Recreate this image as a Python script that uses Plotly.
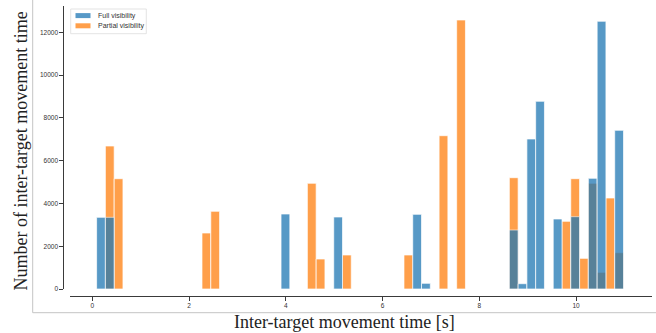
import plotly.graph_objects as go

# ---- data ----
bin_width = 0.1815  # common histogram bin width [s]

full_x = [0.181, 0.362, 3.993, 5.082, 6.715, 6.897, 8.712, 8.893, 9.075, 9.256,
          9.619, 9.982, 10.345, 10.527, 10.890]
full_counts = [3352, 3352, 3506, 3366, 3492, 266, 2758, 248, 7013, 8775,
               3273, 3381, 5175, 12515, 7419]

partial_x = [0.362, 0.544, 2.359, 2.541, 4.537, 4.719, 5.263, 6.534, 7.260, 7.623,
             8.712, 9.801, 9.982, 10.164, 10.345, 10.527, 10.708, 10.890]
partial_counts = [6685, 5157, 2618, 3633, 4942, 1402, 1590, 1590, 7167, 12576,
                  5203, 3165, 5157, 1434, 4942, 780, 4254, 1697]

series_names = ["Full visibility", "Partial visibility"]
x_ticks = [0, 2, 4, 6, 8, 10]
y_ticks = [0, 2000, 4000, 6000, 8000, 10000, 12000]
x_title = "Inter-target movement time [s]"
y_title = "Number of inter-target movement time"

BLUE = "#1f77b4"
ORANGE = "#ff7f0e"
AXIS = "#3a3a3a"
TICKFONT = dict(family="Liberation Sans, Arial, sans-serif", size=6.5, color="#333333")

fig = go.Figure()
# partial first so the full-visibility bars are layered on top
fig.add_trace(go.Bar(
    x=partial_x, y=partial_counts, width=bin_width, name=series_names[1],
    marker=dict(color=ORANGE, line=dict(color="white", width=0.7)),
    opacity=0.75, showlegend=False,
))
fig.add_trace(go.Bar(
    x=full_x, y=full_counts, width=bin_width, name=series_names[0],
    marker=dict(color=BLUE, line=dict(color="white", width=0.7)),
    opacity=0.75, showlegend=False,
))

W, H = 656, 333
L, R, T, B = 63, 4, 6, 37
pw, ph = W - L - R, H - T - B


def px(xp):
    return (xp - L) / pw


def py(yp):
    return (H - B - yp) / ph


fig.update_layout(
    width=W, height=H,
    margin=dict(l=L, r=R, t=T, b=B),
    barmode="overlay",
    plot_bgcolor="white", paper_bgcolor="white",
    xaxis=dict(
        domain=[px(70), 1], range=[-0.46, 11.57],
        anchor="free", position=0, automargin=False,
        tickvals=x_ticks, ticktext=[str(v) for v in x_ticks],
        showline=True, linecolor=AXIS, linewidth=1.3,
        ticks="outside", ticklen=3.5, tickwidth=1, tickcolor=AXIS,
        showgrid=False, zeroline=False, tickfont=TICKFONT,
    ),
    yaxis=dict(
        domain=[py(289), 1], range=[0, 13230],
        anchor="free", position=0, automargin=False,
        tickvals=y_ticks, ticktext=[str(v) for v in y_ticks],
        showline=True, linecolor=AXIS, linewidth=1.3,
        ticks="outside", ticklen=3.5, tickwidth=1, tickcolor=AXIS,
        showgrid=False, zeroline=False, tickfont=TICKFONT,
    ),
)

shapes = []
# outer light frame (left and bottom)
fx, fy = px(32.7), py(312.7)
shapes.append(dict(type="line", xref="paper", yref="paper", x0=fx, x1=fx, y0=fy, y1=py(-5),
                   line=dict(color="#c4c4c4", width=1)))
shapes.append(dict(type="line", xref="paper", yref="paper", x0=fx, x1=px(660), y0=fy, y1=fy,
                   line=dict(color="#c4c4c4", width=1)))
# legend box
shapes.append(dict(type="rect", xref="paper", yref="paper", x0=px(70.7), x1=px(146.3),
                   y0=py(33.7), y1=py(9), line=dict(color="#dcdcdc", width=0.8),
                   fillcolor="rgba(255,255,255,0.8)"))
for yc, col in [(15.6, "rgba(31,119,180,0.75)"), (25.8, "rgba(255,127,14,0.75)")]:
    shapes.append(dict(type="rect", xref="paper", yref="paper", x0=px(75.5), x1=px(90.5),
                       y0=py(yc + 2.5), y1=py(yc - 2.5), line=dict(width=0), fillcolor=col))
fig.update_layout(shapes=shapes)

ann = []
for yc, name in [(15.6, series_names[0]), (25.8, series_names[1])]:
    ann.append(dict(xref="paper", yref="paper", x=px(96), y=py(yc), text=name,
                    showarrow=False, xanchor="left", yanchor="middle",
                    font=dict(family="Liberation Sans, Arial, sans-serif", size=7, color="#333333")))
ann.append(dict(xref="paper", yref="paper", x=px(344.5), y=py(322), text=x_title,
                showarrow=False, xanchor="center", yanchor="middle",
                font=dict(family="Liberation Serif, serif", size=18, color="#222222")))
ann.append(dict(xref="paper", yref="paper", x=px(21), y=py(151.5), text=y_title,
                showarrow=False, xanchor="center", yanchor="middle", textangle=-90,
                font=dict(family="Liberation Serif, serif", size=18, color="#222222")))
fig.update_layout(annotations=ann)

fig.write_html("out.html",
               config={"displayModeBar": False},
               post_script="document.body.style.margin='0';document.body.style.padding='0';")
